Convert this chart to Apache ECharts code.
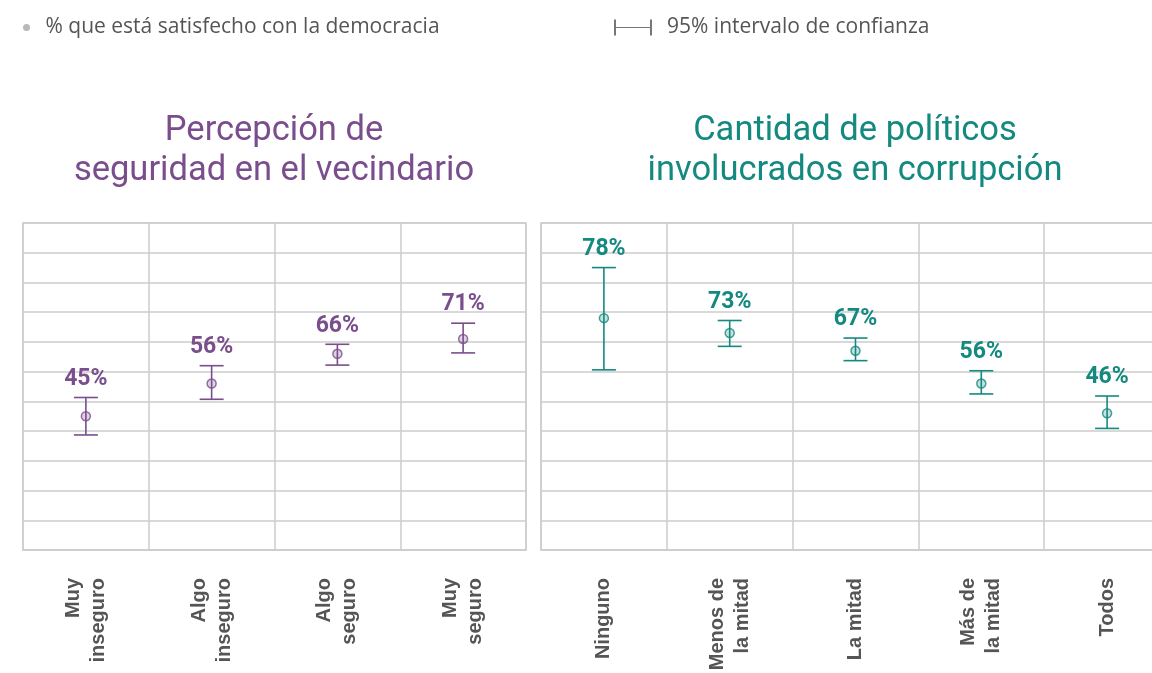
<!DOCTYPE html>
<html>
<head>
<meta charset="utf-8">
<script src="https://cdn.jsdelivr.net/npm/echarts@6/dist/echarts.min.js"></script>
<style>
html,body{margin:0;padding:0;background:#fff;}
#chart{width:1152px;height:673px;}
</style>
</head>
<body>
<div id="chart"></div>
<script>
// ---- data ----
var titleLeft = 'Percepción de\nseguridad en el vecindario';
var titleRight = 'Cantidad de políticos\ninvolucrados en corrupción';
var legendPoint = '% que está satisfecho con la democracia';
var legendCI = '95% intervalo de confianza';

var catsLeft = ['Muy\ninseguro', 'Algo\ninseguro', 'Algo\nseguro', 'Muy\nseguro'];
var valsLeft = [45, 56, 66, 71];
var lowLeft = [38.7, 50.7, 62.2, 66.3];
var highLeft = [51.3, 62.0, 69.2, 76.3];

var catsRight = ['Ninguno', 'Menos de\nla mitad', 'La mitad', 'Más de\nla mitad', 'Todos'];
var valsRight = [78, 73, 67, 56, 46];
var lowRight = [60.6, 68.5, 63.7, 52.5, 40.9];
var highRight = [95.0, 77.2, 71.3, 60.3, 51.8];

var yMin = 0, yMax = 110, yStep = 10;

// ---- styles ----
var purple = '#7a4e8c';
var teal = '#14897f';
var gridColor = '#cdcdcd';
var textGray = '#555555';

function ciData(vals, lows, highs) {
  return vals.map(function (v, i) { return [i, lows[i], highs[i], v]; });
}

function makeRender(color) {
  return function (params, api) {
    var i = api.value(0);
    var hi = api.coord([i, api.value(2)]);
    var lo = api.coord([i, api.value(1)]);
    var half = 12;
    var ls = { stroke: color, lineWidth: 1.6 };
    return {
      type: 'group',
      children: [
        { type: 'line', shape: { x1: hi[0], y1: hi[1], x2: lo[0], y2: lo[1] }, style: ls },
        { type: 'line', shape: { x1: hi[0] - half, y1: hi[1], x2: hi[0] + half, y2: hi[1] }, style: ls },
        { type: 'line', shape: { x1: lo[0] - half, y1: lo[1], x2: lo[0] + half, y2: lo[1] }, style: ls },
        { type: 'text', x: hi[0], y: hi[1] - 7,
          style: { text: api.value(3) + '%', fill: color, font: 'bold 23px Roboto',
                   textAlign: 'center', textVerticalAlign: 'bottom' } }
      ]
    };
  };
}

function xAxisDef(cats, gi) {
  return {
    type: 'category', gridIndex: gi, data: cats, boundaryGap: true,
    axisLine: { show: true, lineStyle: { color: gridColor, width: 1.5 } },
    axisTick: { show: false },
    splitLine: { show: true, lineStyle: { color: gridColor, width: 1.5 } },
    axisLabel: {
      rotate: 90, margin: 28, color: textGray, fontFamily: 'Liberation Sans',
      fontWeight: 'bold', fontSize: 20, lineHeight: 25, interval: 0
    }
  };
}
function yAxisDef(gi) {
  return {
    type: 'value', gridIndex: gi, min: yMin, max: yMax, interval: yStep,
    axisLabel: { show: false }, axisTick: { show: false }, axisLine: { show: false },
    splitLine: { show: true, lineStyle: { color: gridColor, width: 1.5 } }
  };
}

var chart = echarts.init(document.getElementById('chart'), null, { renderer: 'canvas' });
chart.setOption({
  animation: false,
  backgroundColor: '#ffffff',
  title: [
    { text: titleLeft, left: 269, top: 106, textAlign: 'center',
      textStyle: { fontFamily: 'Roboto', fontWeight: 'normal', fontSize: 34.5, lineHeight: 40, color: purple } },
    { text: titleRight, left: 850, top: 106, textAlign: 'center',
      textStyle: { fontFamily: 'Roboto', fontWeight: 'normal', fontSize: 34.5, lineHeight: 40, color: teal } }
  ],
  legend: [
    { left: 23, top: 17, padding: 0, itemWidth: 28, itemHeight: 7, selectedMode: false,
      data: [{ name: legendPoint, icon: 'circle', itemStyle: { color: '#a8a8a8', borderWidth: 0 } }],
      textStyle: { color: textGray, fontSize: 21, fontFamily: 'Open Sans' } },
    { left: 614, top: 17, padding: 0, itemWidth: 38, itemHeight: 16, selectedMode: false,
      data: [{ name: legendCI,
               icon: 'path://M0,0 h2 v16 h-2z M2,7.5 h34 v1 h-34z M36,0 h2 v16 h-2z',
               itemStyle: { color: '#777777', borderWidth: 0 } }],
      textStyle: { color: textGray, fontSize: 21, fontFamily: 'Open Sans', padding: [0, 0, 0, 10] } }
  ],
  grid: [
    { left: 23, top: 223, width: 503, height: 327, show: true, borderColor: gridColor, borderWidth: 1.5,
      outerBoundsMode: 'none' },
    { left: 541, top: 223, width: 629, height: 327, show: true, borderColor: gridColor, borderWidth: 1.5,
      outerBoundsMode: 'none' }
  ],
  xAxis: [xAxisDef(catsLeft, 0), xAxisDef(catsRight, 1)],
  yAxis: [yAxisDef(0), yAxisDef(1)],
  series: [
    { name: legendCI, type: 'custom', xAxisIndex: 0, yAxisIndex: 0,
      renderItem: makeRender(purple), itemStyle: { color: purple },
      encode: { x: 0, y: [1, 2] }, data: ciData(valsLeft, lowLeft, highLeft), z: 3 },
    { name: legendCI, type: 'custom', xAxisIndex: 1, yAxisIndex: 1,
      renderItem: makeRender(teal), itemStyle: { color: teal },
      encode: { x: 0, y: [1, 2] }, data: ciData(valsRight, lowRight, highRight), z: 3 },
    { name: legendPoint, type: 'scatter', xAxisIndex: 0, yAxisIndex: 0, data: valsLeft,
      symbol: 'circle', symbolSize: 9, z: 4,
      itemStyle: { color: 'rgba(122,78,140,0.3)', borderColor: purple, borderWidth: 1.5 } },
    { name: legendPoint, type: 'scatter', xAxisIndex: 1, yAxisIndex: 1, data: valsRight,
      symbol: 'circle', symbolSize: 9, z: 4,
      itemStyle: { color: 'rgba(20,137,127,0.3)', borderColor: teal, borderWidth: 1.5 } }
  ]
});
</script>
</body>
</html>
